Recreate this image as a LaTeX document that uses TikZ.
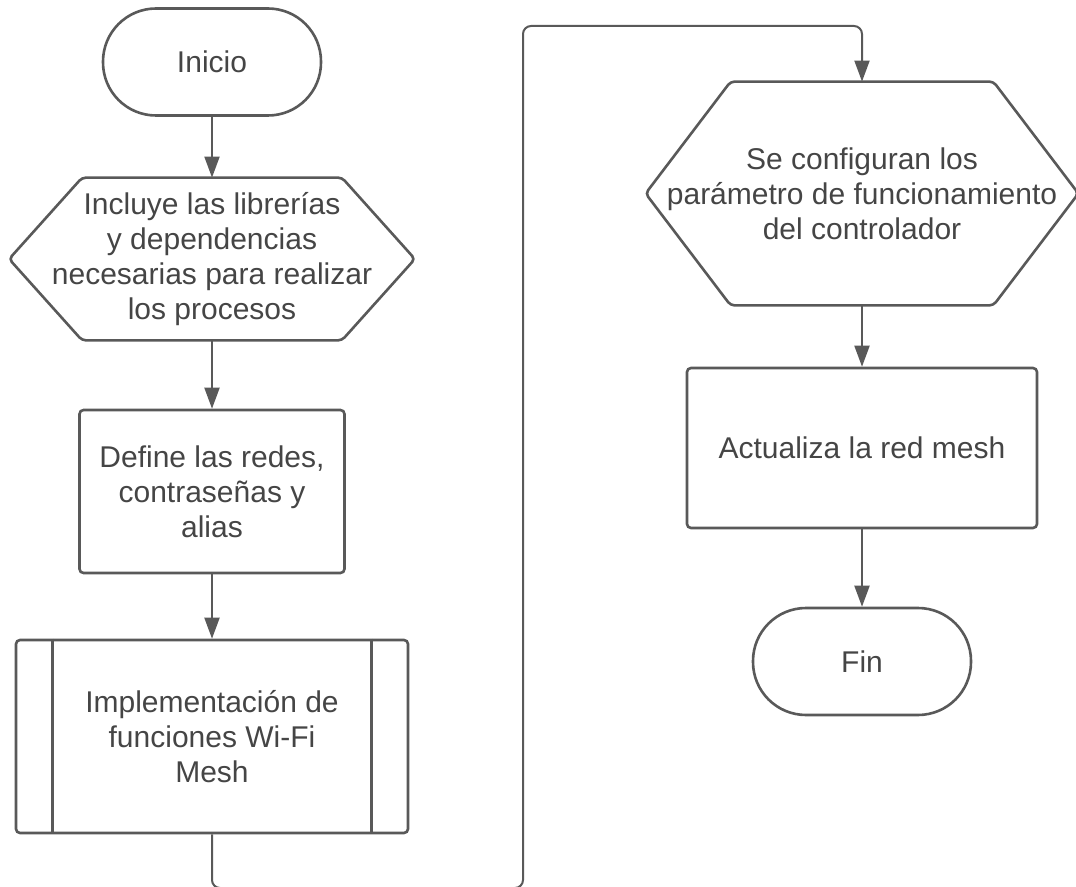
\documentclass[tikz,border=0pt]{standalone}
\usepackage{fontspec}
\setmainfont{Liberation Sans}
\usetikzlibrary{arrows.meta}
\definecolor{LineaGris}{HTML}{595959}
\definecolor{TextoGris}{HTML}{454545}

\begin{document}
\begin{tikzpicture}[%
    x=0.5pt, y=-0.5pt,%
    font=\fontsize{15}{17.5}\selectfont,%
    text=TextoGris%
  ]
  \tikzset{%
    borde/.style={draw=LineaGris, line width=1.3pt},%
    terminal/.style={shape=rectangle, borde, rounded corners=26.5pt, minimum width=109pt, minimum height=53.5pt, align=center},%
    proceso/.style={shape=rectangle, borde, rounded corners=2pt, align=center},%
    preparacion/.style={shape=rectangle, align=center, inner sep=0pt},%
    flecha/.style={draw=LineaGris, line width=1pt, -{Triangle[length=10.5pt, width=7.5pt]}}%
  }%
  \useasboundingbox (0,0) rectangle (1076,887);%

  %
  % Columna izquierda
  %
  \node[terminal] (inicio) at (212,62) {Inicio};%
  \node[preparacion, minimum width=202.5pt, minimum height=81pt] (incluye) at (212,259)%
  {Incluye las librerías\\ y dependencias\\ necesarias para realizar\\ los procesos};%
  \node[proceso, minimum width=132.5pt, minimum height=81.5pt] (redes) at (212,491.5)%
  {Define las redes,\\ contraseñas y\\ alias};%
  \node[proceso, minimum width=196pt, minimum height=96.5pt] (funciones) at (212,736.5)%
  {Implementación de\\ funciones Wi-Fi\\ Mesh};%

  %
  % Columna derecha
  %
  \node[preparacion, minimum width=216pt, minimum height=111.5pt] (parametros) at (862,193.5)%
  {Se configuran los\\ parámetro de funcionamiento\\ del controlador};%
  \node[proceso, minimum width=175pt, minimum height=80pt] (actualiza) at (862,448) {Actualiza la red mesh};%
  \node[terminal] (fin) at (862,661.5) {Fin};%

  % Hexagonos
  \foreach \n/\d in {incluye/36.5pt, parametros/42.5pt} {%
      \draw[borde, rounded corners=2pt] (\n.west) -- ([xshift=\d]\n.north west) -- ([xshift=-\d]\n.north east)%
      -- (\n.east) -- ([xshift=-\d]\n.south east) -- ([xshift=\d]\n.south west) -- cycle;%
    }%

  % Subproceso
  \draw[borde] ([xshift=19pt]funciones.north west) -- ([xshift=19pt]funciones.south west);%
  \draw[borde] ([xshift=-19pt]funciones.north east) -- ([xshift=-19pt]funciones.south east);%

  %
  % Flechas
  %
  \draw[flecha] (inicio) -- (incluye);%
  \draw[flecha] (incluye) -- (redes);%
  \draw[flecha] (redes) -- (funciones);%
  \coordinate (retorno abajo) at (523,888);%
  \coordinate (retorno arriba) at (523,26);%
  \draw[flecha, rounded corners=4pt] (funciones.south) |- (retorno abajo) -- (retorno arriba) -| (parametros.north);%
  \draw[flecha] (parametros) -- (actualiza);%
  \draw[flecha] (actualiza) -- (fin);%
\end{tikzpicture}
\end{document}
